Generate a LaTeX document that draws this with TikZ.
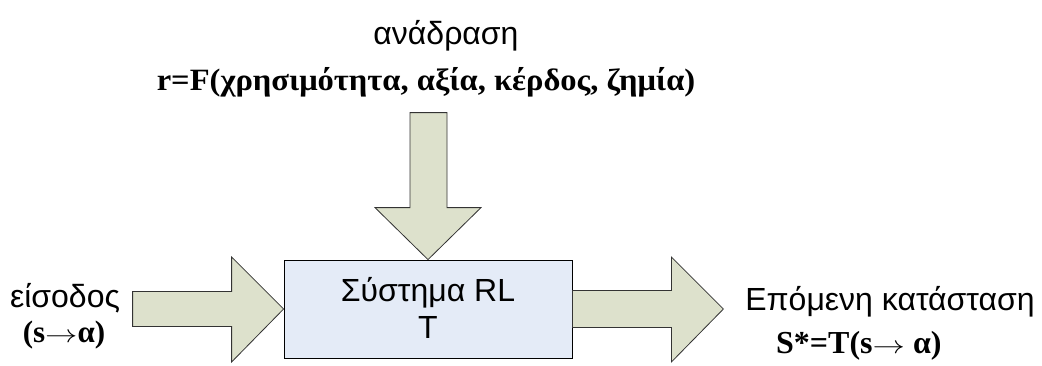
\documentclass[tikz,border=0pt]{standalone}
\usepackage{fontspec}
\setmainfont{Liberation Serif}
\setsansfont{Liberation Sans}
\usetikzlibrary{calc}
\definecolor{boxfill}{RGB}{228,235,247}
\definecolor{arrowfill}{RGB}{221,225,204}
\newcommand{\thinarrow}{\scalebox{1.3}[1]{\ensuremath{\rightarrow}}}
\tikzset{
  sansbig/.style={font=\sffamily\fontsize{32}{36}\selectfont, inner sep=0pt, anchor=base},
  serifbold/.style={font=\rmfamily\bfseries\fontsize{31}{35}\selectfont, inner sep=0pt, anchor=base},
  sysbox/.style={draw=black, line width=0.8pt, fill=boxfill, minimum width=288pt, minimum height=98pt, inner sep=0pt},
  blockarrow/.style={draw=black!80, line width=0.8pt, fill=arrowfill, line join=miter}
}
\begin{document}
\begin{tikzpicture}[x=1pt,y=-1pt]
\useasboundingbox (0,0) rectangle (1042,365);
\node[sysbox] (box) at (428,309) {};
\node[sansbig] (sys) at (428,301) {Σύστημα RL};
\node[sansbig] (t) at (428,338) {T};
% input arrow
\draw[blockarrow] (box.west) -- ++(-52,-52) -- ++(0,34.5) -- ++(-99,0) -- ++(0,35) -- ++(99,0) -- ++(0,35.5) -- cycle;
% feedback arrow
\draw[blockarrow] (box.north) -- ++(53,-52) -- ++(-34,0) -- ++(0,-95) -- ++(-37,0) -- ++(0,95) -- ++(-35,0) -- cycle;
% output arrow
\draw[blockarrow] ($(box.east)+(0,-18.5)$) -- ++(99,0) -- ++(0,-33.5) -- ++(52,52) -- ++(-52,53) -- ++(0,-34.5) -- ++(-99,0) -- cycle;
\node[sansbig] (fb) at (446,44) {ανάδραση};
\node[serifbold] (r) at (426,90) {\scalebox{1.05}[1]{r=F(χρησιμότητα, αξία, κέρδος, ζημία)}};
\node[sansbig] (in) at (65,307) {είσοδος};
\node[serifbold] (sa) at (64,342) {(s\thinarrow α)};
\node[sansbig] (next) at (890,310) {Επόμενη κατάσταση};
\node[serifbold, anchor=base west, font=\rmfamily\bfseries\fontsize{32}{36}\selectfont] (st) at (776,353) {S*=T(s\thinarrow\ α)};
\end{tikzpicture}
\end{document}
